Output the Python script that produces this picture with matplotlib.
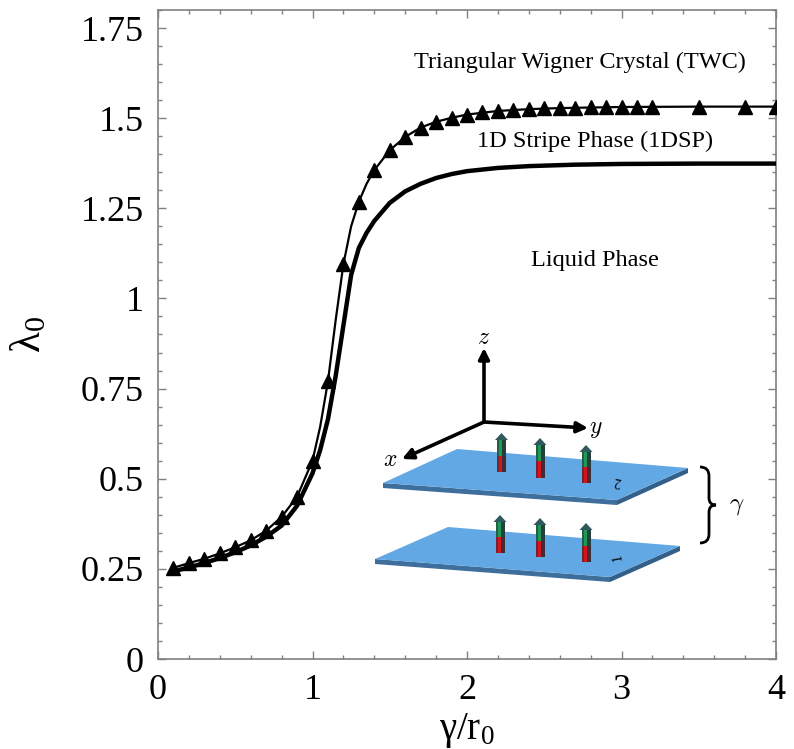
import matplotlib
matplotlib.use("Agg")
import matplotlib.pyplot as plt
from matplotlib.patches import Polygon, Rectangle, PathPatch
from matplotlib.path import Path
from matplotlib.ticker import MultipleLocator, FuncFormatter

# ── Data ───────────────────────────────────────────────────────
# TWC boundary: triangle markers
twc_x = [0.1, 0.2, 0.3, 0.4, 0.5, 0.6, 0.7, 0.8, 0.9, 1.0,
         1.1, 1.2, 1.3, 1.4, 1.5, 1.6, 1.7, 1.8, 1.9, 2.0,
         2.1, 2.2, 2.3, 2.4, 2.5, 2.6, 2.7, 2.8, 2.9, 3.0,
         3.1, 3.2, 3.5, 3.8, 4.0]
twc_y = [0.253, 0.266, 0.278, 0.293, 0.310, 0.329, 0.356, 0.394, 0.450, 0.550,
         0.770, 1.095, 1.268, 1.356, 1.411, 1.448, 1.474, 1.490, 1.501, 1.510,
         1.516, 1.520, 1.523, 1.525, 1.527, 1.528, 1.529, 1.530, 1.530, 1.531,
         1.531, 1.531, 1.532, 1.532, 1.532]
# extra points on the TWC line in the steep part
twc_line_x = [0.1, 0.2, 0.3, 0.4, 0.5, 0.6, 0.7, 0.8, 0.9, 1.0, 1.05,
              1.1, 1.15, 1.2, 1.25, 1.3, 1.35, 1.4, 1.5, 1.6, 1.7, 1.8,
              1.9, 2.0, 2.2, 2.4, 2.6, 3.0, 3.5, 4.0]
twc_line_y = [0.253, 0.266, 0.278, 0.293, 0.310, 0.329, 0.356, 0.394, 0.450, 0.550, 0.645,
              0.770, 0.940, 1.095, 1.200, 1.268, 1.318, 1.356, 1.411, 1.448, 1.474, 1.490,
              1.501, 1.510, 1.520, 1.525, 1.528, 1.531, 1.532, 1.532]

# 1DSP boundary: thick line
dsp_x = [0.1, 0.2, 0.3, 0.4, 0.5, 0.6, 0.7, 0.8, 0.9, 1.0, 1.05,
         1.1, 1.15, 1.2, 1.25, 1.3, 1.35, 1.4, 1.5, 1.6, 1.7, 1.8,
         1.9, 2.0, 2.2, 2.4, 2.7, 3.0, 3.5, 4.0]
dsp_y = [0.243, 0.254, 0.266, 0.280, 0.296, 0.315, 0.339, 0.370, 0.425, 0.515, 0.580,
         0.665, 0.785, 0.925, 1.065, 1.140, 1.182, 1.215, 1.265, 1.297, 1.318, 1.334,
         1.345, 1.353, 1.362, 1.367, 1.371, 1.373, 1.374, 1.374]

phase_labels = ["Triangular Wigner Crystal (TWC)", "1D Stripe Phase (1DSP)", "Liquid Phase"]
phase_pos = [(2.73, 1.655), (2.83, 1.435), (2.83, 1.105)]

y_ticks = [0, 0.25, 0.5, 0.75, 1, 1.25, 1.5, 1.75]
x_ticks = [0, 1, 2, 3, 4]

# ── Figure ─────────────────────────────────────────────────────
serif = "Liberation Serif"
plt.rcParams["font.family"] = [serif, "DejaVu Serif"]
plt.rcParams["mathtext.fontset"] = "custom"
plt.rcParams["mathtext.rm"] = serif
plt.rcParams["mathtext.it"] = serif + ":italic"

W, H = 794, 749
fig = plt.figure(figsize=(W / 100, H / 100), dpi=100)
ax = fig.add_axes([158 / W, 1 - 659 / H, 618 / W, 649 / H])

ax.plot(twc_line_x, twc_line_y, color="black", lw=1.6, zorder=3)
ax.plot(twc_x, twc_y, ls="none", marker="^", ms=9.5, color="black", zorder=4)
ax.plot(dsp_x, dsp_y, color="black", lw=3.2, zorder=3, solid_capstyle="butt")

for txt, (px, py) in zip(phase_labels, phase_pos):
    ax.text(px, py, txt, fontsize=17.5, ha="center", va="center")

ax.set_xlim(0, 4)
ax.set_ylim(0, 1.8)
ax.set_xticks(x_ticks)
ax.set_yticks(y_ticks)
ax.xaxis.set_minor_locator(MultipleLocator(0.2))
ax.yaxis.set_minor_locator(MultipleLocator(0.05))
ax.yaxis.set_major_formatter(FuncFormatter(lambda v, p: f"{v:g}"))
ax.tick_params(which="both", direction="in", top=True, right=True,
               color="#808080", labelcolor="black", labelsize=26)
ax.tick_params(which="major", length=6, width=1)
ax.tick_params(which="minor", length=3, width=1)
ax.tick_params(axis="x", which="major", pad=11)
ax.tick_params(axis="y", which="major", pad=10)
for s in ax.spines.values():
    s.set_color("#808080")
    s.set_linewidth(1.2)

fig.text(467 / W, 1 - 731 / H, r"$\mathrm{\gamma/r_0}$", fontsize=28,
         ha="center", va="center")
fig.text(29 / W, 1 - 334 / H, r"$\mathrm{\lambda_0}$", fontsize=31,
         ha="center", va="center", rotation=90)

# ── Inset sketch: two layers with dipoles ──────────────────────
ins = fig.add_axes([360 / W, 1 - 600 / H, 420 / W, 280 / H])
ins.set_xlim(0, 420)
ins.set_ylim(280, 0)
ins.axis("off")
ins.patch.set_alpha(0)

plate_top = "#62a8e4"
plate_side = "#3e6f9c"


def draw_plate(pts, t=5):
    a, b, c, d = pts  # left, back-left, back-right, front-right
    ins.add_patch(Polygon([a, d, (d[0], d[1] + t), (a[0], a[1] + t)],
                          closed=True, fc=plate_side, ec="none", zorder=1))
    ins.add_patch(Polygon([d, c, (c[0], c[1] + t), (d[0], d[1] + t)],
                          closed=True, fc="#345f88", ec="none", zorder=1))
    ins.add_patch(Polygon([a, b, c, d], closed=True, fc=plate_top,
                          ec="none", zorder=2))


def draw_spin(cx, base, tip, w=9):
    mid = (base + tip) / 2 + 3
    head = tip + 7
    ins.add_patch(Rectangle((cx - w / 2, mid), w, base - mid, fc="#d8121c",
                            ec="none", zorder=5))
    ins.add_patch(Rectangle((cx - w / 2, head), w, mid - head, fc="#1f9a55",
                            ec="none", zorder=5))
    ins.add_patch(Rectangle((cx + w / 2 - 4, head), 4, base - head,
                            fc="#26313a", ec="none", alpha=0.85, zorder=6))
    ins.add_patch(Rectangle((cx - w / 2, head), 2, base - head,
                            fc="#2a3540", ec="none", alpha=0.6, zorder=6))
    ins.add_patch(Polygon([(cx - w / 2 - 2, head), (cx, tip), (cx + w / 2 + 2, head)],
                          closed=True, fc="#2f5a5c", ec="none", zorder=7))


draw_plate([(23, 163), (97, 129), (328, 148), (257, 180)])
draw_plate([(15, 239), (88, 207), (320, 226), (250, 257)])

for cx, base, tip in [(141.5, 152, 113), (180, 158, 118), (226, 163, 125)]:
    draw_spin(cx, base, tip)
for cx, base, tip in [(140, 233, 195), (180, 237, 198), (226, 242, 203)]:
    draw_spin(cx, base, tip)

ins.text(257, 161, "2", fontsize=10, rotation=172, ha="center", va="center", zorder=3)
ins.text(258, 237, "1", fontsize=10, rotation=100, ha="center", va="center", zorder=3)

origin = (124, 102)
arrow_kw = dict(arrowstyle="-|>", lw=2.6, color="black", mutation_scale=16,
                shrinkA=0, shrinkB=0)
for tip in [(124, 28), (228, 108), (42, 139)]:
    ins.annotate("", xy=tip, xytext=origin, arrowprops=arrow_kw, zorder=8)
ins.text(124, 18, r"$z$", math_fontfamily="cm", fontsize=17, ha="center", va="center")
ins.text(236, 109, r"$y$", math_fontfamily="cm", fontsize=17, ha="center", va="center")
ins.text(30, 140, r"$x$", math_fontfamily="cm", fontsize=17, ha="center", va="center")

brace = Path([(340, 147), (349, 147), (349, 156), (349, 178), (349, 185), (356, 185),
              (349, 185), (349, 192), (349, 214), (349, 223), (340, 223)],
             [Path.MOVETO, Path.CURVE3, Path.CURVE3, Path.LINETO, Path.CURVE3,
              Path.CURVE3, Path.CURVE3, Path.CURVE3, Path.LINETO, Path.CURVE3, Path.CURVE3])
ins.add_patch(PathPatch(brace, fc="none", ec="black", lw=2, zorder=8))
ins.text(377, 186, r"$\gamma$", math_fontfamily="cm", fontsize=18, ha="center", va="center")

fig.savefig("out.png", dpi=100)
